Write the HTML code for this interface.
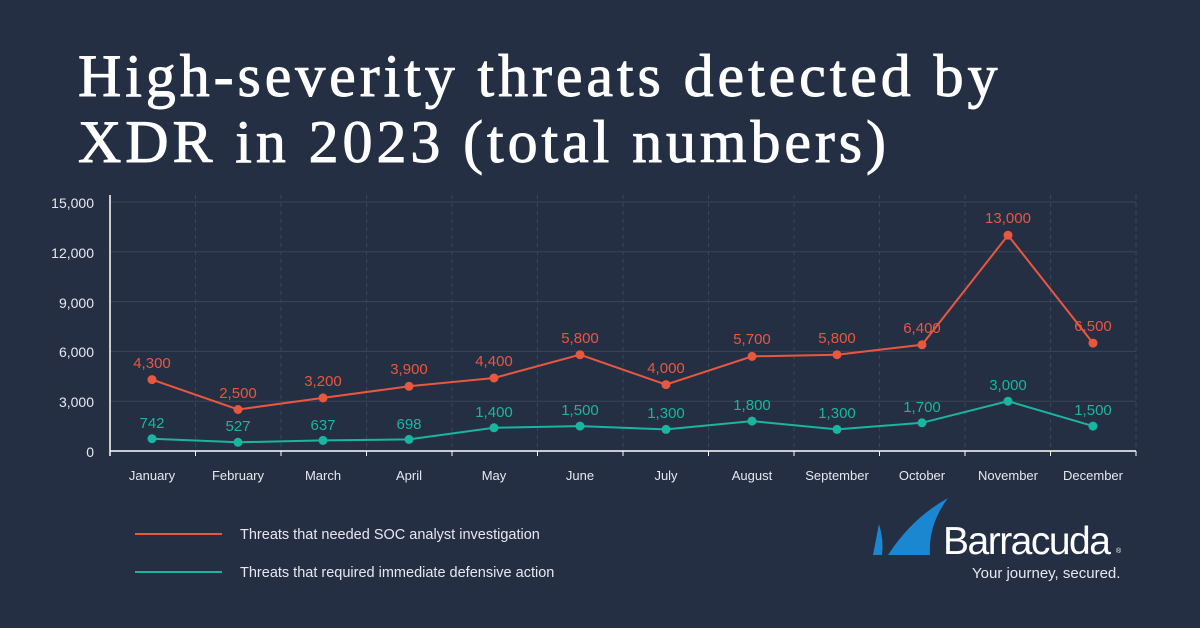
<!DOCTYPE html>
<html><head><meta charset="utf-8"><style>
html,body{margin:0;padding:0;background:#252f44;}
body{width:1200px;height:628px;overflow:hidden;position:relative;}
</style></head><body>
<svg width="1200" height="628" xmlns="http://www.w3.org/2000/svg" style="position:absolute;left:0;top:0">
<rect width="1200" height="628" fill="#252f44"/>
<g font-family="Liberation Serif, serif" fill="#ffffff" stroke="#ffffff" stroke-width="0.9" font-size="60" letter-spacing="3.9">
<text x="78" y="96">High-severity threats detected by</text>
<text x="78" y="162">XDR in 2023 (total numbers)</text>
</g>
<g stroke="#3b4559" stroke-width="1">
<line x1="110" y1="202" x2="1136" y2="202"/>
<line x1="110" y1="251.8" x2="1136" y2="251.8"/>
<line x1="110" y1="301.6" x2="1136" y2="301.6"/>
<line x1="110" y1="351.4" x2="1136" y2="351.4"/>
<line x1="110" y1="401.2" x2="1136" y2="401.2"/>
</g>
<g stroke="#3b4559" stroke-width="1" stroke-dasharray="4,4">
<line x1="195.5" y1="195" x2="195.5" y2="451"/><line x1="281" y1="195" x2="281" y2="451"/>
<line x1="366.5" y1="195" x2="366.5" y2="451"/><line x1="452" y1="195" x2="452" y2="451"/>
<line x1="537.5" y1="195" x2="537.5" y2="451"/><line x1="623" y1="195" x2="623" y2="451"/>
<line x1="708.5" y1="195" x2="708.5" y2="451"/><line x1="794" y1="195" x2="794" y2="451"/>
<line x1="879.5" y1="195" x2="879.5" y2="451"/><line x1="965" y1="195" x2="965" y2="451"/>
<line x1="1050.5" y1="195" x2="1050.5" y2="451"/><line x1="1136" y1="195" x2="1136" y2="451"/>
</g>
<g stroke="#ffffff" stroke-width="1.5">
<line x1="110" y1="195" x2="110" y2="456"/>
<line x1="110" y1="451" x2="1136" y2="451"/>
</g>
<g stroke="#ffffff" stroke-width="1">
<line x1="195.5" y1="451" x2="195.5" y2="456"/><line x1="281" y1="451" x2="281" y2="456"/>
<line x1="366.5" y1="451" x2="366.5" y2="456"/><line x1="452" y1="451" x2="452" y2="456"/>
<line x1="537.5" y1="451" x2="537.5" y2="456"/><line x1="623" y1="451" x2="623" y2="456"/>
<line x1="708.5" y1="451" x2="708.5" y2="456"/><line x1="794" y1="451" x2="794" y2="456"/>
<line x1="879.5" y1="451" x2="879.5" y2="456"/><line x1="965" y1="451" x2="965" y2="456"/>
<line x1="1050.5" y1="451" x2="1050.5" y2="456"/><line x1="1136" y1="451" x2="1136" y2="456"/>
</g>
<g font-family="Liberation Sans, sans-serif" font-size="14" fill="#e6e8ee" text-anchor="end">
<text x="94" y="208">15,000</text><text x="94" y="258">12,000</text><text x="94" y="308">9,000</text>
<text x="94" y="357">6,000</text><text x="94" y="407">3,000</text><text x="94" y="457">0</text>
</g>
<g font-family="Liberation Sans, sans-serif" font-size="13" fill="#e6e8ee" text-anchor="middle">
<text x="152" y="480">January</text><text x="238" y="480">February</text><text x="323" y="480">March</text>
<text x="409" y="480">April</text><text x="494" y="480">May</text><text x="580" y="480">June</text>
<text x="666" y="480">July</text><text x="752" y="480">August</text><text x="837" y="480">September</text>
<text x="922" y="480">October</text><text x="1008" y="480">November</text><text x="1093" y="480">December</text>
</g>
<polyline fill="none" stroke="#e9573f" stroke-width="2" points="152,379.6 238,409.5 323,397.9 409,386.3 494,378 580,354.7 666,384.6 752,356.4 837,354.7 922,344.8 1008,235.2 1093,343.1"/>
<g fill="#e9573f">
<circle cx="152" cy="379.6" r="4.5"/><circle cx="238" cy="409.5" r="4.5"/><circle cx="323" cy="397.9" r="4.5"/><circle cx="409" cy="386.3" r="4.5"/><circle cx="494" cy="378" r="4.5"/><circle cx="580" cy="354.7" r="4.5"/><circle cx="666" cy="384.6" r="4.5"/><circle cx="752" cy="356.4" r="4.5"/><circle cx="837" cy="354.7" r="4.5"/><circle cx="922" cy="344.8" r="4.5"/><circle cx="1008" cy="235.2" r="4.5"/><circle cx="1093" cy="343.1" r="4.5"/>
</g>
<g font-family="Liberation Sans, sans-serif" font-size="15" fill="#e9573f" text-anchor="middle">
<text x="152" y="368">4,300</text><text x="238" y="398">2,500</text><text x="323" y="386">3,200</text><text x="409" y="374">3,900</text><text x="494" y="366">4,400</text><text x="580" y="343">5,800</text><text x="666" y="373">4,000</text><text x="752" y="344">5,700</text><text x="837" y="343">5,800</text><text x="922" y="333">6,400</text><text x="1008" y="223">13,000</text><text x="1093" y="331">6,500</text>
</g>
<polyline fill="none" stroke="#1ab5a0" stroke-width="2" points="152,438.7 238,442.3 323,440.4 409,439.4 494,427.8 580,426.1 666,429.4 752,421.1 837,429.4 922,422.8 1008,401.2 1093,426.1"/>
<g fill="#1ab5a0">
<circle cx="152" cy="438.7" r="4.5"/><circle cx="238" cy="442.3" r="4.5"/><circle cx="323" cy="440.4" r="4.5"/><circle cx="409" cy="439.4" r="4.5"/><circle cx="494" cy="427.8" r="4.5"/><circle cx="580" cy="426.1" r="4.5"/><circle cx="666" cy="429.4" r="4.5"/><circle cx="752" cy="421.1" r="4.5"/><circle cx="837" cy="429.4" r="4.5"/><circle cx="922" cy="422.8" r="4.5"/><circle cx="1008" cy="401.2" r="4.5"/><circle cx="1093" cy="426.1" r="4.5"/>
</g>
<g font-family="Liberation Sans, sans-serif" font-size="15" fill="#1ab5a0" text-anchor="middle">
<text x="152" y="428">742</text><text x="238" y="431">527</text><text x="323" y="430">637</text><text x="409" y="429">698</text><text x="494" y="417">1,400</text><text x="580" y="415">1,500</text><text x="666" y="418">1,300</text><text x="752" y="410">1,800</text><text x="837" y="418">1,300</text><text x="922" y="412">1,700</text><text x="1008" y="390">3,000</text><text x="1093" y="415">1,500</text>
</g>
<line x1="135" y1="534" x2="222" y2="534" stroke="#e9573f" stroke-width="2"/>
<line x1="135" y1="572" x2="222" y2="572" stroke="#1ab5a0" stroke-width="2"/>
<g font-family="Liberation Sans, sans-serif" font-size="14.5" fill="#e6e8ee">
<text x="240" y="539">Threats that needed SOC analyst investigation</text>
<text x="240" y="577">Threats that required immediate defensive action</text>
</g>
<g fill="#1b87d0">
<path d="M873,555 L879,524 Q884,540 882,555 Z"/>
<path d="M888,555 Q912,518 948,498 Q928,525 930,555 Z"/>
</g>
<text x="943" y="554" font-family="Liberation Sans, sans-serif" font-size="39" fill="#ffffff" letter-spacing="-1.5">Barracuda</text>
<text x="1116" y="553" font-family="Liberation Sans, sans-serif" font-size="7" fill="#ffffff">®</text>
<text x="972" y="578" font-family="Liberation Sans, sans-serif" font-size="15" fill="#e6e8ee">Your journey, secured.</text>
</svg>
</body></html>
